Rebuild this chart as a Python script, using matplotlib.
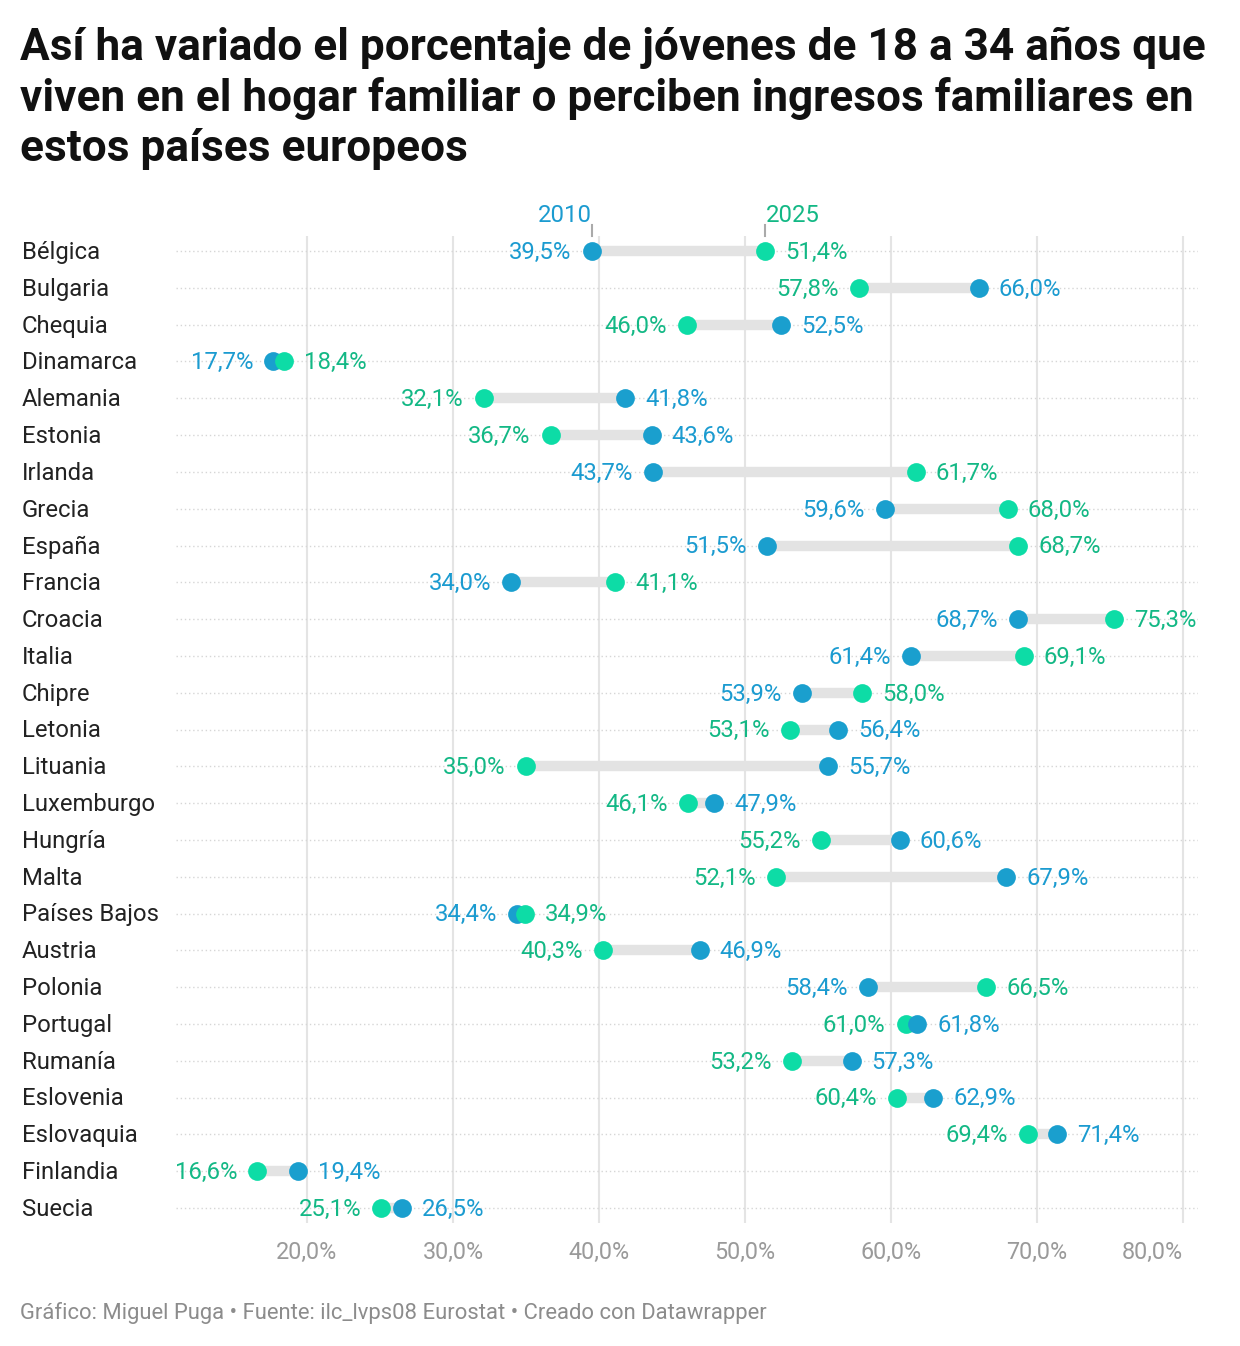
import matplotlib.pyplot as plt
from matplotlib.transforms import blended_transform_factory

plt.rcParams['font.family'] = ['Roboto', 'DejaVu Sans']

countries = ["Bélgica", "Bulgaria", "Chequia", "Dinamarca", "Alemania", "Estonia",
             "Irlanda", "Grecia", "España", "Francia", "Croacia", "Italia", "Chipre",
             "Letonia", "Lituania", "Luxemburgo", "Hungría", "Malta", "Países Bajos",
             "Austria", "Polonia", "Portugal", "Rumanía", "Eslovenia", "Eslovaquia",
             "Finlandia", "Suecia"]
v2010 = [39.5, 66.0, 52.5, 17.7, 41.8, 43.6, 43.7, 59.6, 51.5, 34.0, 68.7, 61.4, 53.9,
         56.4, 55.7, 47.9, 60.6, 67.9, 34.4, 46.9, 58.4, 61.8, 57.3, 62.9, 71.4, 19.4, 26.5]
v2025 = [51.4, 57.8, 46.0, 18.4, 32.1, 36.7, 61.7, 68.0, 68.7, 41.1, 75.3, 69.1, 58.0,
         53.1, 35.0, 46.1, 55.2, 52.1, 34.9, 40.3, 66.5, 61.0, 53.2, 60.4, 69.4, 16.6, 25.1]
ticks = [20, 30, 40, 50, 60, 70, 80]

blue = '#1a9fce'
blue_txt = '#1b9bd0'
green = '#0ddca6'
green_txt = '#13b885'
grey_bar = '#e3e3e3'

fig = plt.figure(figsize=(12.4, 13.46), dpi=100)
ax = fig.add_axes([0.1416, 0.0916, 0.8242, 0.7328])

n = len(countries)
ax.set_xlim(11, 81)
ax.set_ylim(n - 1 + 0.4, -0.4)

for t in ticks:
    ax.axvline(t, color='#e4e4e4', lw=1.5, zorder=0)
for i in range(n):
    ax.plot([11, 81], [i, i], color='#d6d6d6', lw=1, ls=(0, (1, 2)), zorder=0.5)

for i, (a, b) in enumerate(zip(v2010, v2025)):
    ax.plot([a, b], [i, i], color=grey_bar, lw=7.5, solid_capstyle='butt', zorder=1)
    pts = [(a, blue, blue_txt), (b, green, green_txt)]
    pts.sort(key=lambda p: p[0])
    for k, (v, c, tc) in enumerate(pts):
        ax.plot(v, i, 'o', color=c, ms=13.5, mec='none', zorder=2 + k)
        lab = f"{v:.1f}%".replace('.', ',')
        if k == 0:
            ax.annotate(lab, (v, i), xytext=(-14.5, -1), textcoords='offset points',
                        ha='right', va='center', color=tc, fontsize=17.2)
        else:
            ax.annotate(lab, (v, i), xytext=(14.5, -1), textcoords='offset points',
                        ha='left', va='center', color=tc, fontsize=17.2)

# country names
tr = blended_transform_factory(fig.transFigure, ax.transData)
for i, c in enumerate(countries):
    ax.annotate(c, (22 / 1240, i), xycoords=tr, xytext=(0, -1), textcoords='offset points',
                ha='left', va='center', fontsize=17.2, color='#222222')

# year header over the first row
ax.plot([v2010[0], v2010[0]], [-0.4, -0.7], color='#aaaaaa', lw=1.5, clip_on=False)
ax.plot([v2025[0], v2025[0]], [-0.4, -0.7], color='#aaaaaa', lw=1.5, clip_on=False)
ax.text(v2010[0], -0.79, "2010", ha='right', va='baseline', color=blue_txt, fontsize=17.2)
ax.text(v2025[0], -0.79, "2025", ha='left', va='baseline', color=green_txt, fontsize=17.2)

ax.set_xticks(ticks)
ax.set_xticklabels([f"{t},0%" for t in ticks])
ax.tick_params(axis='x', length=0, pad=13, labelsize=16.8, labelcolor='#9a9a9a')
ax.xaxis.get_majorticklabels()[-1].set_horizontalalignment('right')
ax.set_yticks([])
for s in ax.spines.values():
    s.set_visible(False)

fig.text(20 / 1240, 1 - 27 / 1346,
         "Así ha variado el porcentaje de jóvenes de 18 a 34 años que\n"
         "viven en el hogar familiar o perciben ingresos familiares en\n"
         "estos países europeos",
         ha='left', va='top', fontsize=31.8, fontweight='bold', color='#111111',
         linespacing=1.24)

fig.text(20 / 1240, 1 - 1313 / 1346,
         "Gráfico: Miguel Puga • Fuente: ilc_lvps08 Eurostat • Creado con Datawrapper",
         ha='left', va='center', fontsize=15.8, color='#8c8c8c')

fig.savefig('out.png', dpi=100, facecolor='white')
